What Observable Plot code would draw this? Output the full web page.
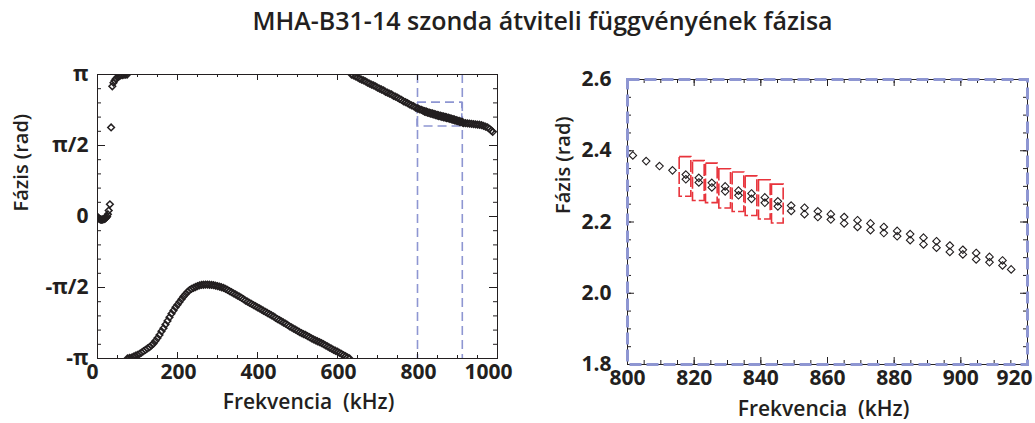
<!DOCTYPE html>
<html><head><meta charset="utf-8">
<script src="https://cdn.jsdelivr.net/npm/d3@7"></script>
<script src="https://cdn.jsdelivr.net/npm/@observablehq/plot@0.6"></script>
<style>
body{margin:0;background:#fff;font-family:"Open Sans",sans-serif;}
#wrap{position:relative;width:1035px;height:423px;overflow:hidden;background:#fff;}
#title{position:absolute;left:25px;top:3px;width:1035px;text-align:center;font-size:25px;font-weight:600;color:#231f20;white-space:nowrap;}
#left{position:absolute;left:0;top:40px;}
#right{position:absolute;left:530px;top:40px;}
</style></head><body>
<div id="wrap"><div id="title">MHA-B31-14 szonda átviteli függvényének fázisa</div><div id="left"></div><div id="right"></div></div>
<script>
const PI = Math.PI;
// ---- texts ----
const titleText = "MHA-B31-14 szonda átviteli függvényének fázisa";
const xLabel = "Frekvencia  (kHz)";
const yLabel = "Fázis (rad)";
// ---- left panel tick labels ----
const leftXTicks = [0, 200, 400, 600, 800, 1000];
const leftYTicks = [-PI, -PI/2, 0, PI/2, PI];
const leftYTickLabels = ["-π", "-π/2", "0", "π/2", "π"];
// ---- right panel tick labels ----
const rightXTicks = [800, 820, 840, 860, 880, 900, 920];
const rightYTicks = [1.8, 2.0, 2.2, 2.4, 2.6];

// ---- left panel data: low-frequency segment ----
const lowFreq  = [0, 2, 4, 6, 8, 10, 12, 14, 16, 18, 20, 22, 24, 26, 28, 31, 34, 37, 40, 43, 46, 50, 54, 58, 62, 66, 70, 74];
const lowPhase = [-0.01, -0.03, -0.05, -0.06, -0.07, -0.07, -0.07, -0.06, -0.06, -0.05, -0.04, -0.02, 0.0, 0.05, 0.13, 0.27, 1.97, 2.88, 2.96, 3.01, 3.05, 3.08, 3.10, 3.12, 3.13, 3.135, 3.14, 3.14];
// ---- left panel data: lower arc (wrapped) ----
const arcFreq = [75, 80, 85, 90, 95, 100, 105, 110, 115, 120, 125, 130, 135, 140, 145, 150, 155, 160, 165, 170, 175, 180, 185, 190, 195, 200, 205, 210, 215, 220, 225, 230, 235, 240, 245, 250, 255, 260, 265, 270, 275, 280, 285, 290, 295, 300, 305, 310, 315, 320, 325, 330, 335, 340, 345, 350, 355, 360, 365, 370, 375, 380, 385, 390, 395, 400, 405, 410, 415, 420, 425, 430, 435, 440, 445, 450, 455, 460, 465, 470, 475, 480, 485, 490, 495, 500, 505, 510, 515, 520, 525, 530, 535, 540, 545, 550, 555, 560, 565, 570, 575, 580, 585, 590, 595, 600, 605, 610, 615, 620, 625, 630];
const arcPhase = [-3.14, -3.13, -3.12, -3.10, -3.08, -3.06, -3.04, -3.01, -2.98, -2.95, -2.92, -2.89, -2.85, -2.81, -2.75, -2.69, -2.62, -2.54, -2.47, -2.39, -2.31, -2.23, -2.15, -2.08, -2.01, -1.95, -1.89, -1.83, -1.77, -1.72, -1.67, -1.63, -1.60, -1.58, -1.56, -1.54, -1.525, -1.515, -1.51, -1.505, -1.505, -1.51, -1.515, -1.52, -1.53, -1.54, -1.55, -1.565, -1.58, -1.60, -1.625, -1.65, -1.675, -1.70, -1.725, -1.75, -1.775, -1.80, -1.83, -1.86, -1.885, -1.91, -1.935, -1.96, -1.985, -2.01, -2.035, -2.06, -2.085, -2.11, -2.135, -2.16, -2.185, -2.21, -2.24, -2.27, -2.295, -2.32, -2.345, -2.37, -2.40, -2.43, -2.455, -2.48, -2.505, -2.53, -2.555, -2.58, -2.60, -2.62, -2.645, -2.67, -2.695, -2.72, -2.74, -2.76, -2.78, -2.80, -2.825, -2.85, -2.875, -2.90, -2.925, -2.95, -2.97, -2.99, -3.015, -3.04, -3.065, -3.09, -3.115, -3.14];
// ---- left panel data: upper segment (high frequency) ----
const highFreq  = [635, 640, 645, 650, 655, 660, 665, 670, 675, 680, 685, 690, 695, 700, 705, 710, 715, 720, 725, 730, 735, 740, 745, 750, 755, 760, 765, 770, 775, 780, 785, 790, 795, 800];
const highPhase = [3.14, 3.12, 3.10, 3.08, 3.05, 3.03, 3.01, 2.99, 2.96, 2.94, 2.92, 2.90, 2.88, 2.85, 2.83, 2.81, 2.79, 2.76, 2.74, 2.72, 2.70, 2.67, 2.65, 2.63, 2.60, 2.58, 2.55, 2.53, 2.51, 2.48, 2.46, 2.44, 2.41, 2.39];
const tailFreq  = [920, 925, 930, 935, 940, 945, 950, 955, 960, 965, 970, 975, 980, 985, 988];
const tailPhase = [2.065, 2.06, 2.055, 2.05, 2.045, 2.04, 2.035, 2.03, 2.02, 2.005, 1.99, 1.97, 1.94, 1.90, 1.87];

// ---- right panel (zoom 800-920 kHz) ----
const singleFreq  = [801.6, 805.6, 809.6, 813.5, 915.1];
const singlePhase = [2.387, 2.371, 2.357, 2.345, 2.067];
const pairFreq   = [817.5, 821.4, 825.3, 829.3, 833.3, 837.2, 841.2, 845.1, 849.1, 853.1, 857.1, 861.0, 865.0, 869.0, 872.9, 876.9, 880.9, 884.8, 888.8, 892.7, 896.7, 900.6, 904.6, 908.6, 912.5];
const pairUpper  = [2.333, 2.324, 2.310, 2.300, 2.288, 2.280, 2.269, 2.258, 2.246, 2.240, 2.230, 2.222, 2.214, 2.205, 2.196, 2.186, 2.175, 2.166, 2.156, 2.146, 2.134, 2.122, 2.113, 2.102, 2.092];
const pairLower  = [2.320, 2.311, 2.297, 2.286, 2.275, 2.265, 2.254, 2.244, 2.231, 2.222, 2.214, 2.207, 2.196, 2.186, 2.177, 2.169, 2.160, 2.149, 2.137, 2.128, 2.116, 2.109, 2.095, 2.087, 2.078];
// red dashed boxes (highlighted pairs)
const boxFreq   = [817.4, 821.4, 825.3, 829.3, 833.3, 837.2, 841.2, 845.1];
const boxTop    = [2.382, 2.371, 2.364, 2.348, 2.339, 2.328, 2.317, 2.305];
const boxBottom = [2.271, 2.259, 2.253, 2.238, 2.228, 2.217, 2.207, 2.196];
const boxHalfWidth = 1.75;
// zoom region marked on the left panel
const zoomRegion = {x1: 800, x2: 912, y1: 1.99, y2: 2.52};

// ---- build tables ----
const zip = (xs, ys) => xs.map((x, i) => ({f: x, p: ys[i]}));
const rightPoints = [...zip(singleFreq, singlePhase), ...zip(pairFreq, pairUpper), ...zip(pairFreq, pairLower)];
const leftPoints = [...zip(lowFreq, lowPhase), ...zip(arcFreq, arcPhase), ...zip(highFreq, highPhase), ...rightPoints, ...zip(tailFreq, tailPhase)];
const boxes = boxFreq.map((f, i) => ({x1: f - boxHalfWidth, x2: f + boxHalfWidth, y1: boxBottom[i], y2: boxTop[i]}));

const ink = "#231f20";
const blue = "#8e96d2";
const red = "#e8333b";
const tickFont = {fontSize: 21, fontWeight: "bold"};

function innerTicks(xs, ys, w, h, lenX, lenY) {
  return [
    Plot.ruleY(ys, {y: d => d, insetRight: w - lenY, stroke: ink}),
    Plot.ruleY(ys, {y: d => d, insetLeft: w - lenY, stroke: ink}),
    Plot.ruleX(xs, {x: d => d, insetTop: h - lenX, stroke: ink}),
    Plot.ruleX(xs, {x: d => d, insetBottom: h - lenX, stroke: ink})
  ];
}

// ---- LEFT PANEL ----
const LW = 520, LH = 383, Lml = 97, Lmr = 23, Lmt = 34, Lmb = 65;
const lw = LW - Lml - Lmr, lh = LH - Lmt - Lmb;
const leftMinorY = d3.range(-10, 11).map(k => k * PI / 10);
const leftMinorX = d3.range(0, 1001, 50);

const left = Plot.plot({
  width: LW, height: LH, marginLeft: Lml, marginRight: Lmr, marginTop: Lmt, marginBottom: Lmb,
  x: {domain: [0, 1000]},
  y: {domain: [-PI, PI]},
  style: {fontFamily: "'Open Sans', sans-serif", fontSize: "20px", fontWeight: "bold", color: ink, background: "white", overflow: "visible"},
  marks: [
    Plot.ruleX([zoomRegion.x1, zoomRegion.x2], {stroke: blue, strokeWidth: 1.6, strokeDasharray: "9,5"}),
    Plot.rect([zoomRegion], {x1: "x1", x2: "x2", y1: "y1", y2: "y2", fill: "none", stroke: blue, strokeWidth: 1.6, strokeDasharray: "9,5"}),
    ...innerTicks(leftMinorX, leftMinorY, lw, lh, 3, 4),
    ...innerTicks(leftXTicks, leftYTicks, lw, lh, 6, 8),
    Plot.dot(leftPoints, {x: "f", y: "p", symbol: "diamond2", r: 3.0, stroke: ink, strokeWidth: 1.5, fill: "none", clip: true}),
    Plot.frame({stroke: ink, strokeWidth: 1}),
    Plot.axisX([0], {tickSize: 0, tickPadding: 6, label: null, dx: -5, ...tickFont, tickFormat: d => String(d)}),
    Plot.axisX(leftXTicks.slice(1, -1), {tickSize: 0, tickPadding: 6, label: null, dx: 1, ...tickFont, tickFormat: d => String(d)}),
    Plot.axisX([1000], {tickSize: 0, tickPadding: 6, label: null, dx: -9, ...tickFont, tickFormat: d => String(d)}),
    Plot.axisY(leftYTicks, {tickSize: 0, tickPadding: 9, label: null, ...tickFont,
      tickFormat: d => leftYTickLabels[leftYTicks.indexOf(d)]}),
    Plot.text([xLabel], {frameAnchor: "bottom", dx: 11, dy: 50, fontSize: 21, fontWeight: 600, fill: ink}),
    Plot.text([yLabel], {frameAnchor: "left", rotate: -90, dx: -76, dy: -5, fontSize: 20, fontWeight: 600, fill: ink})
  ]
});
document.getElementById("left").append(left);

// ---- RIGHT PANEL ----
const RW = 505, RH = 383, Rml = 97, Rmr = 8, Rmt = 39, Rmb = 59;
const rw = RW - Rml - Rmr, rh = RH - Rmt - Rmb;
const rightMinorX = d3.range(800, 921, 5);
const rightMinorY = d3.range(36, 53).map(k => k * 0.05);

const right = Plot.plot({
  width: RW, height: RH, marginLeft: Rml, marginRight: Rmr, marginTop: Rmt, marginBottom: Rmb,
  x: {domain: [800, 920]},
  y: {domain: [1.8, 2.6]},
  style: {fontFamily: "'Open Sans', sans-serif", fontSize: "20px", fontWeight: "bold", color: ink, background: "white", overflow: "visible"},
  marks: [
    Plot.frame({stroke: ink, strokeWidth: 1}),
    ...innerTicks(rightMinorX, rightMinorY, rw, rh, 4, 4),
    ...innerTicks(rightXTicks, rightYTicks, rw, rh, 7, 7),
    Plot.rect(boxes, {x1: "x1", x2: "x2", y1: "y1", y2: "y2", fill: "none", stroke: red, strokeWidth: 1.6, strokeDasharray: "12,3"}),
    Plot.dot(rightPoints, {x: "f", y: "p", symbol: "diamond2", r: 3.4, stroke: ink, strokeWidth: 1.1, fill: "none"}),
    Plot.frame({stroke: blue, strokeWidth: 3, strokeDasharray: "12,5"}),
    Plot.axisX(rightXTicks.slice(0, -1), {tickSize: 0, tickPadding: 6, label: null, ...tickFont, tickFormat: d => String(d)}),
    Plot.axisX(rightXTicks.slice(-1), {tickSize: 0, tickPadding: 6, label: null, dx: -13, ...tickFont, tickFormat: d => String(d)}),
    Plot.axisY(rightYTicks, {tickSize: 0, tickPadding: 16, label: null, ...tickFont, tickFormat: d => d.toFixed(1)}),
    Plot.text([xLabel], {frameAnchor: "bottom", dx: -4, dy: 51, fontSize: 21, fontWeight: 600, fill: ink}),
    Plot.text([yLabel], {frameAnchor: "left", rotate: -90, dx: -64, dy: -8, fontSize: 20, fontWeight: 600, fill: ink})
  ]
});
document.getElementById("right").append(right);
</script>
</body></html>
